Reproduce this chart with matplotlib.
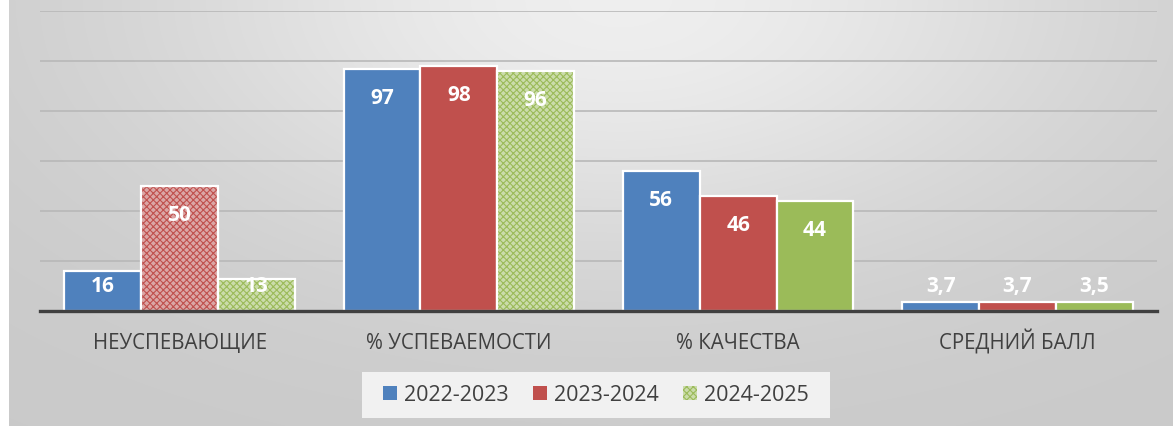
import numpy as np
import matplotlib
matplotlib.use("Agg")
import matplotlib.pyplot as plt
from matplotlib.patches import Patch, FancyBboxPatch
import matplotlib.transforms as mtransforms

categories = ["НЕУСПЕВАЮЩИЕ", "% УСПЕВАЕМОСТИ", "% КАЧЕСТВА", "СРЕДНИЙ БАЛЛ"]
series_names = ["2022-2023", "2023-2024", "2024-2025"]
values_2022 = [16, 97, 56, 3.7]
values_2023 = [50, 98, 46, 3.7]
values_2024 = [13, 96, 44, 3.5]
# which bars are drawn with a pattern fill
hatched_2022 = [False, False, False, False]
hatched_2023 = [True, False, False, False]
hatched_2024 = [True, True, False, False]

series_values = [values_2022, values_2023, values_2024]
series_hatched = [hatched_2022, hatched_2023, hatched_2024]
colors = ["#4f81bd", "#c0504d", "#9bbb59"]
light_colors = ["#a8c0de", "#dba6a5", "#cbdcab"]

plt.rcParams['font.family'] = ['Open Sans', 'DejaVu Sans']
plt.rcParams['hatch.linewidth'] = 0.8

W, H = 1173, 427
fig = plt.figure(figsize=(W / 100, H / 100), dpi=100)

# background gradient
bg = fig.add_axes([0, 0, 1, 1], zorder=-10)
xx, yy = np.meshgrid(np.arange(W), np.arange(H))
f = np.exp(-((xx - 620) / 480.0) ** 2 - (yy / 260.0) ** 2)
v = 0.79 + 0.145 * f
v[:, :9] = 1.0
img = np.dstack([v, v, v])
bg.imshow(img, aspect='auto', extent=[0, 1, 0, 1], interpolation='bilinear')
bg.set_axis_off()

ax = fig.add_axes([40 / W, 115 / H, (1157 - 40) / W, 300 / H])
ax.set_facecolor('none')
ax.set_xlim(-0.5, 3.5)
ax.set_ylim(0, 120)

x = np.arange(len(categories))
width = 0.275
offsets = [-width, 0, width]

for vals, hat, col, lcol, off in zip(series_values, series_hatched, colors, light_colors, offsets):
    for xi, val, h in zip(x, vals, hat):
        if h:
            ax.bar(xi + off, val, width, color=lcol, edgecolor=col, hatch='xxxxx',
                   linewidth=0, zorder=3)
            ax.bar(xi + off, val, width, fill=False, edgecolor='white',
                   linewidth=1.6, zorder=4)
        else:
            ax.bar(xi + off, val, width, color=col, edgecolor='white',
                   linewidth=1.6, zorder=3)
        label = f"{val:g}".replace('.', ',')
        ly = max(val - 11.5, 10.0)
        ax.text(xi + off, ly, label, ha='center', va='center', color='white',
                fontsize=15, fontweight='bold', zorder=6)

ax.set_yticks(np.arange(20, 121, 20))
ax.yaxis.grid(True, color='#b8b8b8', linewidth=1.2, zorder=1)
ax.set_axisbelow(True)
ax.tick_params(axis='y', left=False, labelleft=False)
ax.set_xticks(x)
ax.set_xticklabels(categories, fontsize=14.8, color='#404040')
ax.tick_params(axis='x', length=0, pad=27)
for lbl in ax.get_xticklabels():
    lbl.set_verticalalignment('baseline')
for s in ['left', 'right', 'top']:
    ax.spines[s].set_visible(False)
ax.spines['bottom'].set_color('#404040')
ax.spines['bottom'].set_linewidth(2.4)
ax.spines['bottom'].set_zorder(5)

handles = [Patch(facecolor=colors[0], edgecolor='none'),
           Patch(facecolor=colors[1], edgecolor='none'),
           Patch(facecolor=light_colors[2], edgecolor=colors[2], hatch='xxxxx', linewidth=0)]
leg = fig.legend(handles, series_names, loc='center', bbox_to_anchor=(596 / W, 1 - 396 / H),
                 ncol=3, frameon=False, fontsize=15.5, handlelength=0.65, handleheight=0.65,
                 handletextpad=0.35, columnspacing=1.1, labelcolor='#404040')

fig.canvas.draw()
bb = leg.get_window_extent()
pad_x = 12
frame = FancyBboxPatch((bb.x0 - pad_x, 8), bb.width + 2 * pad_x, 46,
                       boxstyle='square,pad=0',
                       facecolor='#f1f1f1', edgecolor='none', zorder=-5)
frame.set_transform(mtransforms.IdentityTransform())
fig.patches.append(frame)

fig.savefig("out.png", dpi=100)
